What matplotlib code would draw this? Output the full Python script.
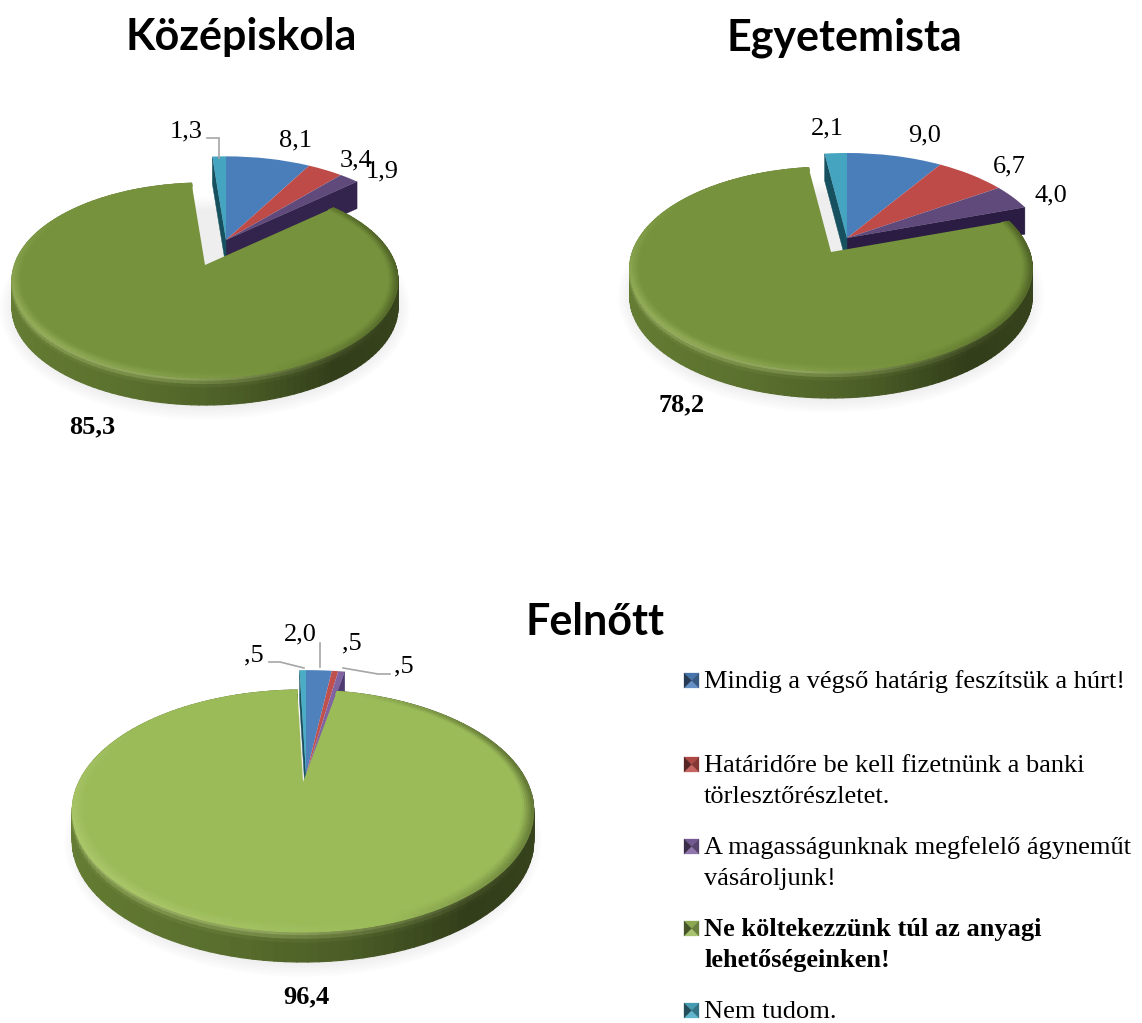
import numpy as np
import matplotlib
matplotlib.use("Agg")
import matplotlib.pyplot as plt
from matplotlib.collections import PolyCollection
from matplotlib.colors import to_rgb
from matplotlib.patches import Ellipse, Polygon
from matplotlib.transforms import Affine2D, Transform

W, H = 1142, 1023
SERIF = "Liberation Serif"
TITLE = "Lato"

categories = [
    "Mindig a végső határig feszítsük a húrt!",
    "Határidőre be kell fizetnünk a banki\ntörlesztőrészletet.",
    "A magasságunknak megfelelő ágyneműt\nvásároljunk!",
    "Ne költekezzünk túl az anyagi\nlehetőségeinken!",
    "Nem tudom.",
]
kozepiskola = [8.1, 3.4, 1.9, 85.3, 1.3]
egyetemista = [9.0, 6.7, 4.0, 78.2, 2.1]
felnott = [2.0, 0.5, 0.5, 96.4, 0.5]


class Persp(Transform):
    input_dims = 2
    output_dims = 2
    is_separable = False
    has_inverse = False

    def __init__(self, a, b):
        super().__init__()
        self.a, self.b = a, b

    def transform_non_affine(self, xy):
        xy = np.asarray(xy, float)
        w = 1 + self.b * xy[:, 1]
        return np.column_stack([xy[:, 0] / w, self.a * xy[:, 1] / w])


def fmt(v):
    s = f"{v:.1f}".replace(".", ",")
    return s[1:] if s.startswith("0,") else s


def mix(c, other, t):
    c, other = np.array(to_rgb(c)), np.array(to_rgb(other))
    return tuple(np.clip(c * (1 - t) + other * t, 0, 1))


def dim(c, f):
    return tuple(np.clip(np.array(to_rgb(c)) * f, 0, 1))


fig = plt.figure(figsize=(W / 100, H / 100), dpi=100, facecolor="white")


def draw_pie(values, title, title_xy, apex, gapex, rx, top, bottom, depth, scale,
             colors, rimcolor, wallcolors, label_xy):
    b = (bottom - top) / (bottom + top)
    A = top * (1 + b) / rx
    rng = 1.3
    ax = fig.add_axes([(apex[0] - rng * rx) / W, 1 - (apex[1] + rng * rx) / H,
                       2 * rng * rx / W, 2 * rng * rx / H])
    wedges, _ = ax.pie(values, colors=colors, startangle=90, counterclock=False,
                       wedgeprops=dict(linewidth=0))
    ax.set_aspect("auto")
    ax.set_xlim(-rng, rng)
    ax.set_ylim(-rng, rng)
    persp = Persp(A, b)
    dx, dy = (gapex[0] - apex[0]) / rx, -(gapex[1] - apex[1]) / rx
    d = depth / rx

    def P(theta, r=1.0):
        t = np.radians(theta)
        u, v = r * np.cos(t), r * np.sin(t)
        w = 1 + b * v
        return u / w, A * v / w

    def G(theta, r=1.0, drop=0.0):
        x, y = P(theta, r)
        return x + dx, y + dy - drop

    # soft shadow
    ecy = dy + (top - bottom) / 2 / rx - d - 1 / rx
    for k in range(8):
        ax.add_patch(Ellipse((dx, ecy), 2 * (1 + (k + 1) * 1.8 / rx),
                             (top + bottom) / rx + (k + 1) * 3.4 / rx,
                             fc="#7f7f7f", ec="none", alpha=0.016, zorder=0.5))

    w_green = wedges[3]
    # small slices and their cut walls
    th_purple = wedges[2].theta1
    th_cyan = wedges[4].theta2
    for th, col in ((th_purple, wallcolors[0]), (th_cyan, wallcolors[1])):
        x, y = P(th)
        x, y = x * scale, y * scale
        ax.add_patch(Polygon([(0, 0), (x, y), (x, y - d), (0, -d)], closed=True,
                             fc=col, ec=col, lw=0.3, zorder=1))
    for i in (0, 1, 2, 4):
        wedges[i].set_transform(persp + Affine2D().scale(scale) + ax.transData)
        wedges[i].set_zorder(2)

    # green rim
    ths = np.linspace(w_green.theta1, w_green.theta2, 160)
    quads, cols = [], []
    N = 8
    for t0, t1 in zip(ths[:-1], ths[1:]):
        c = np.cos(np.radians((t0 + t1) / 2))
        s = np.sin(np.radians((t0 + t1) / 2))
        f = np.interp(c, [-1, -0.3, 0.15, 0.6, 1], [0.86, 0.76, 0.64, 0.42, 0.46])
        for k in range(N):
            u0, u1 = k / N, (k + 1) / N
            mid = (u0 + u1) / 2
            quads.append([G(t0, 1, d * u0), G(t1, 1, d * u0), G(t1, 1, d * u1), G(t0, 1, d * u1)])
            hl = max(0.0, 1 - mid / 0.35) * np.clip(0.9 - c, 0, 1) * np.clip(0.4 - s, 0, 1)
            cols.append(mix(dim(rimcolor, f), "#c8dd8c", 0.6 * hl))
    ax.add_collection(PolyCollection(quads, facecolors=cols, edgecolors=cols,
                                     linewidths=0.9, zorder=3))
    w_green.set_transform(persp + Affine2D().translate(dx, dy) + ax.transData)
    w_green.set_zorder(4)

    # bevel on the top face
    quads, cols = [], []
    rr = np.linspace(0.955, 1.0, 6)
    top_col = colors[3]
    for t0, t1 in zip(ths[:-1], ths[1:]):
        c = np.cos(np.radians((t0 + t1) / 2))
        s = np.sin(np.radians((t0 + t1) / 2))
        for j, (r0, r1) in enumerate(zip(rr[:-1], rr[1:])):
            q = (j + 0.5) / (len(rr) - 1)
            quads.append([G(t0, r0), G(t1, r0), G(t1, r1), G(t0, r1)])
            if c > 0.3:
                cols.append(mix(top_col, "#2e3a14", 0.55 * q * (c - 0.3) / 0.7))
            else:
                cols.append(mix(top_col, "#c8dd8c", 0.35 * q * np.clip(0.3 - c, 0, 1) * np.clip(0.6 - s, 0, 1)))
    ax.add_collection(PolyCollection(quads, facecolors=cols, edgecolors=cols,
                                     linewidths=0.7, zorder=5))

    # titles and value labels on the pixel overlay
    ov.text(title_xy[0], title_xy[1], title, family=TITLE, weight="bold",
            fontsize=31, ha="center", va="baseline", color="black")
    for i, (v, xy) in enumerate(zip(values, label_xy)):
        ov.text(xy[0], xy[1], fmt(v), family=SERIF, fontsize=19, ha="center",
                va="center", color="black", weight="bold" if i == 3 else "normal")


ov = fig.add_axes([0, 0, 1, 1], zorder=10)
ov.set_xlim(0, W)
ov.set_ylim(H, 0)
ov.axis("off")

c12 = ["#4a7ebb", "#be4b48", "#604a7b", "#76923c", "#45a5c0"]
c3 = ["#4f81bd", "#c0504d", "#8064a2", "#9bbb59", "#4bacc6"]

draw_pie(kozepiskola, "Középiskola", (241, 50), (226, 240), (205, 265), 190.5, 82, 113, 27, 1.02,
         c12, "#76923c", ("#33244d", "#17505f"),
         [(296, 140), (356, 160), (382, 171), (92, 427), (186, 131)])
draw_pie(egyetemista, "Egyetemista", (844, 50), (847, 238), (831, 252), 198.5, 85, 119, 27, 1.0,
         c12, "#76923c", ("#2a1c42", "#17505f"),
         [(925, 135), (1009, 166), (1051, 195), (682, 405), (827, 128)])
draw_pie(felnott, "Felnőtt", (595, 635), (306, 775), (303, 782), 224, 92, 150, 30, 1.14,
         c3, "#76923c", ("#4f3b70", "#17505f"),
         [(300, 634), (352, 643), (404, 666), (306, 997), (254, 655)])

# leader lines
for xs, ys in [([207, 219, 219], [138, 138, 158]),
               ([269, 280, 304], [662, 662, 668]),
               ([320, 320], [643, 667]),
               ([343, 378, 390], [668, 674, 674])]:
    ov.plot(xs, ys, color="#a6a6a6", lw=1.2, solid_joinstyle="miter")

# legend
baselines = [688, 772, 854, 936, 1018]
for i, (cat, col, base) in enumerate(zip(categories, c3, baselines)):
    x0, x1 = 684, 699
    y1 = base
    y0 = base - 15
    xc, yc = (x0 + x1) / 2, (y0 + y1) / 2
    tris = [[(x0, y0), (x1, y0), (xc, yc)], [(x0, y1), (x1, y1), (xc, yc)],
            [(x0, y0), (x0, y1), (xc, yc)], [(x1, y0), (x1, y1), (xc, yc)]]
    cols = [dim(col, 0.9), mix(col, "white", 0.12), dim(col, 0.45), dim(col, 0.68)]
    ov.add_collection(PolyCollection(tris, facecolors=cols, edgecolors=cols, linewidths=0.2))
    for j, line in enumerate(cat.split("\n")):
        ov.text(704, base + 31 * j, line, family=SERIF, fontsize=19, ha="left", va="baseline",
                weight="bold" if i == 3 else "normal", color="black")

fig.savefig("out.png", dpi=100, facecolor="white")
